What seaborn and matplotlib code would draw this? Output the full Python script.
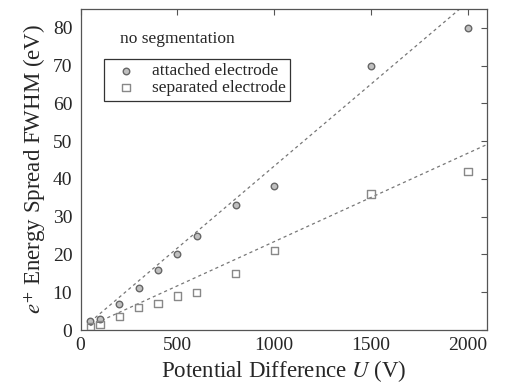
import numpy as np
import pandas as pd
import matplotlib
matplotlib.use("Agg")
import matplotlib.pyplot as plt
import seaborn as sns

voltage = [50, 100, 200, 300, 400, 500, 600, 800, 1000, 1500, 2000]
attached = [2.5, 3, 7, 11, 16, 20, 25, 33, 38, 70, 80]
separated = [1, 1.5, 3.5, 6, 7, 9, 10, 15, 21, 36, 42]
fit_slope_attached = 0.0434
fit_slope_separated = 0.0234
fit_x = [50, 2100]

sns.set_theme(style="white")
plt.rcParams['font.family'] = ['Liberation Serif', 'DejaVu Serif']
plt.rcParams['mathtext.fontset'] = 'stix'

fig, ax = plt.subplots(figsize=(5.2, 3.86), dpi=100)
fig.subplots_adjust(left=0.155, right=0.937, top=0.977, bottom=0.145)

df = pd.DataFrame({"U": voltage * 2,
                   "FWHM": attached + separated,
                   "kind": ["attached electrode"] * len(voltage) + ["separated electrode"] * len(voltage)})

fx = np.array(fit_x, dtype=float)
sns.lineplot(x=fx, y=fit_slope_attached * fx, ax=ax, color="#777777", lw=0.9,
             linestyle=(0, (2.5, 2.5)), legend=False)
sns.lineplot(x=fx, y=fit_slope_separated * fx, ax=ax, color="#777777", lw=0.9,
             linestyle=(0, (2.5, 2.5)), legend=False)

sns.scatterplot(data=df[df.kind == "attached electrode"], x="U", y="FWHM", ax=ax,
                marker="o", s=22, color="#c0c0c0", edgecolor="#666666", linewidth=1.0,
                label="attached electrode", zorder=3)
sns.scatterplot(data=df[df.kind == "separated electrode"], x="U", y="FWHM", ax=ax,
                marker="s", s=28, facecolor="none", edgecolor="#888888", linewidth=1.0,
                label="separated electrode", zorder=3)

ax.set_xlim(0, 2100)
ax.set_ylim(0, 85)
ax.set_xticks([0, 500, 1000, 1500, 2000])
ax.set_yticks([0, 10, 20, 30, 40, 50, 60, 70, 80])
ax.tick_params(direction="in", length=4, width=0.8, color="#555555",
               top=True, right=True, labelsize=14)
ax.tick_params(axis="x", pad=5)
ax.tick_params(axis="y", pad=6)
for sp in ax.spines.values():
    sp.set_color("#555555")
    sp.set_linewidth(0.9)

ax.set_xlabel("Potential Difference $\\mathit{U}$ (V)", fontsize=16.5, labelpad=3)
ax.set_ylabel("$\\mathit{e}^{+}$ Energy Spread FWHM (eV)", fontsize=16.5, labelpad=3)

ax.text(0.096, 0.905, "no segmentation", transform=ax.transAxes, fontsize=12.5, va="center")
leg = ax.legend(loc="upper left", bbox_to_anchor=(0.058, 0.845), fontsize=12.5,
                frameon=True, fancybox=False, edgecolor="black", handletextpad=0.5,
                borderpad=0.25, labelspacing=0.05, handlelength=2.0, borderaxespad=0)
leg.get_frame().set_linewidth(0.9)

fig.savefig("out.png", dpi=100)
